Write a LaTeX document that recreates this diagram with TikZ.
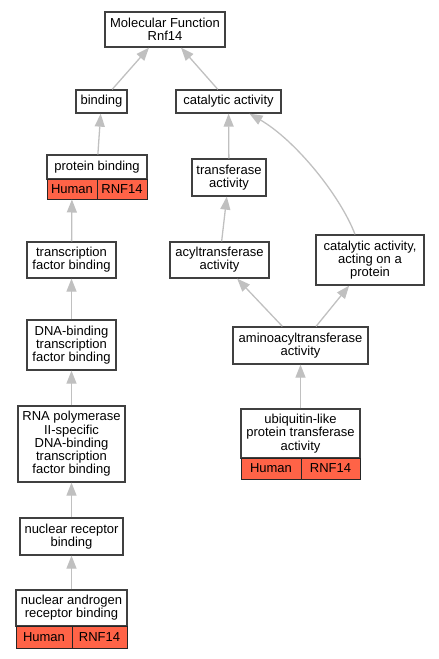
\documentclass[tikz,border=0pt]{standalone}
\usepackage{fontspec}
\setmainfont{Liberation Sans}
\usetikzlibrary{arrows.meta}

\definecolor{boxline}{RGB}{64,64,64}
\definecolor{edgegray}{RGB}{192,192,192}
\definecolor{genered}{RGB}{255,99,71}

\tikzset{
  term/.style={draw=boxline, line width=1.3pt, fill=white, align=center,
    inner sep=0pt, font=\fontsize{13}{13.2}\selectfont},
  gene/.style={term, draw=black!85, line width=1pt, fill=genered},
  isa/.style={draw=edgegray, line width=1.3pt,
    -{Triangle[length=13pt,width=10pt]}}
}

\begin{document}
\begin{tikzpicture}[x=1pt, y=-1pt]
  \useasboundingbox (0,0) rectangle (439,659);

  % top of the tree
  \node[term, minimum width=120pt, minimum height=35pt] (mf) at (165,29.5) {Molecular Function\\Rnf14};
  \node[term, minimum width=51pt, minimum height=23pt] (bind) at (101.5,101.5) {binding};
  \node[term, minimum width=105pt, minimum height=23pt] (cat) at (228.5,101.5) {catalytic activity};

  % binding branch
  \node[term, minimum width=100pt, minimum height=24pt] (pb) at (97,167) {protein binding};
  \node[gene, minimum width=50pt, minimum height=20pt] (pbh) at (72,189) {Human};
  \node[gene, minimum width=50pt, minimum height=20pt] (pbr) at (122,189) {RNF14};
  \node[term, minimum width=89pt, minimum height=36pt] (tfb) at (71.5,260) {transcription\\factor binding};
  \node[term, minimum width=89pt, minimum height=50pt] (dna) at (71.5,345) {DNA-binding\\transcription\\factor binding};
  \node[term, minimum width=107pt, minimum height=76pt] (rna) at (71.5,444) {RNA polymerase\\II-specific\\DNA-binding\\transcription\\factor binding};
  \node[term, minimum width=103pt, minimum height=37pt] (nrb) at (71.5,536.5) {nuclear receptor\\binding};
  \node[term, minimum width=111pt, minimum height=36pt] (narb) at (71.5,608) {nuclear androgen\\receptor binding};
  \node[gene, minimum width=56pt, minimum height=22pt] (narbh) at (44,637) {Human};
  \node[gene, minimum width=55pt, minimum height=22pt] (narbr) at (99.5,637) {RNF14};

  % catalytic branch
  \node[term, minimum width=74pt, minimum height=37pt] (tra) at (229,177.5) {transferase\\activity};
  \node[term, minimum width=99pt, minimum height=36pt] (acy) at (219.5,260) {acyltransferase\\activity};
  \node[term, minimum width=108pt, minimum height=50pt] (cap) at (370,260) {catalytic activity,\\acting on a\\protein};
  \node[term, minimum width=135pt, minimum height=37pt] (amino) at (300.5,345.5) {aminoacyltransferase\\activity};
  \node[term, minimum width=119pt, minimum height=49pt] (ubl) at (300.5,433.5) {ubiquitin-like\\protein transferase\\activity};
  \node[gene, minimum width=60pt, minimum height=21pt] (ublh) at (271,468.5) {Human};
  \node[gene, minimum width=59pt, minimum height=21pt] (ublr) at (330.5,468.5) {RNF14};

  % is_a edges
  \draw[isa] (bind) -- (mf);
  \draw[isa] (cat) -- (mf);
  \draw[isa] (pb) -- (bind);
  \draw[isa] (tfb) -- (pbh);
  \draw[isa] (dna) -- (tfb);
  \draw[isa] (rna) -- (dna);
  \draw[isa] (nrb) -- (rna);
  \draw[isa] (narb) -- (nrb);
  \draw[isa] (tra) -- (cat);
  \draw[isa] (acy) -- (tra);
  \draw[isa] ([xshift=-15pt]cap.north) .. controls (340,195) and (295,140) .. (cat);
  \draw[isa] (amino) -- (acy);
  \draw[isa] (amino) -- (cap);
  \draw[isa] (ubl) -- (amino);
\end{tikzpicture}
\end{document}
